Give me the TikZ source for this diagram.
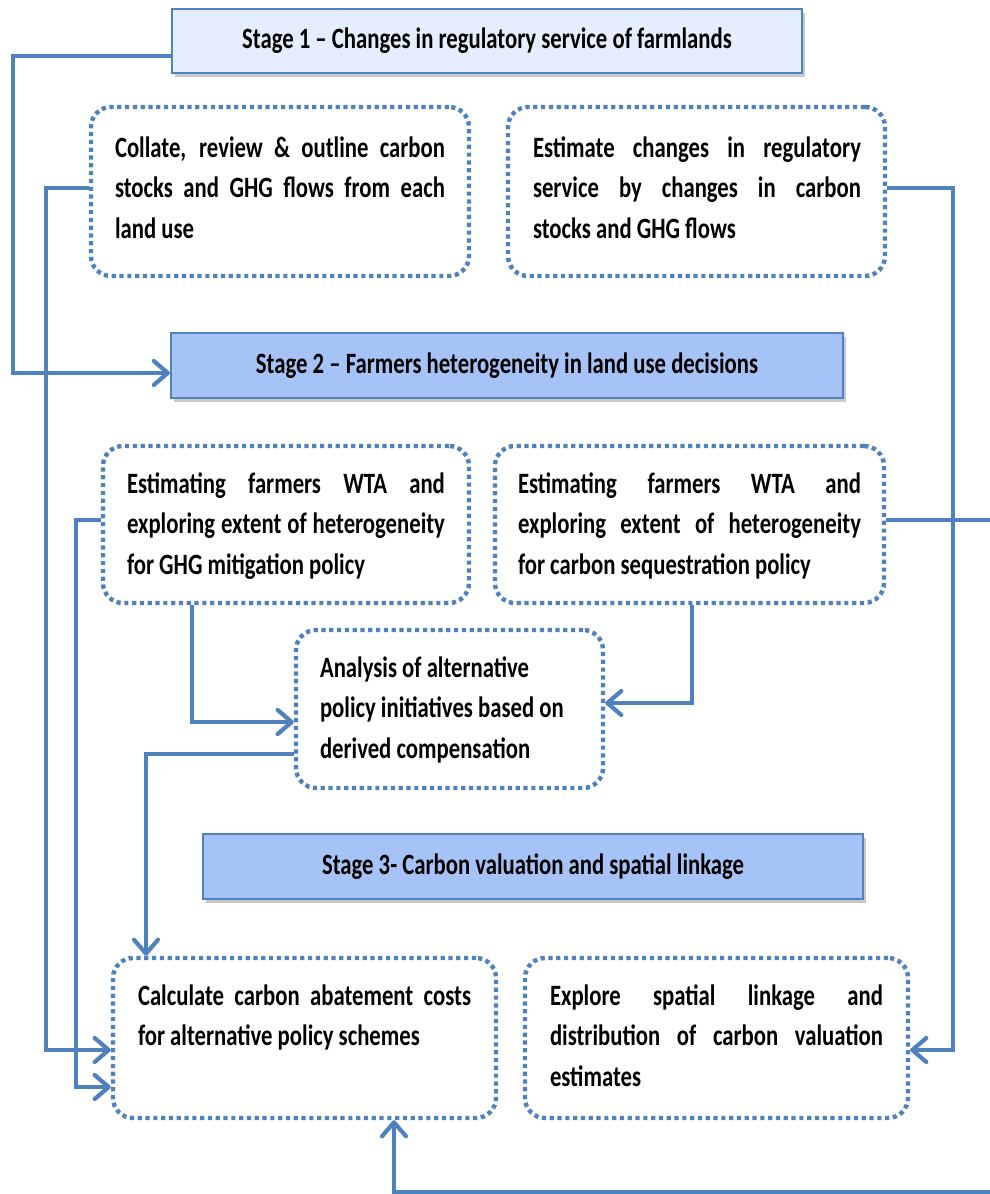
\documentclass[tikz,border=0pt]{standalone}
\usepackage{fontspec}
\setmainfont{Carlito}[FakeStretch=0.77]
\usetikzlibrary{arrows.meta,shadows}
\definecolor{bordblue}{HTML}{4F81BD}
\definecolor{lineblue}{HTML}{4F81BD}
\definecolor{dotblue}{HTML}{4F81BD}
\definecolor{stagelight}{HTML}{E5EEFC}
\definecolor{stagemid}{HTML}{A5C3F6}
\newcommand{\jline}[1]{\makebox[\linewidth][s]{#1}\\}
\newcommand{\boxpar}[2]{\parbox[t]{#1}{\fontsize{29.5pt}{40.8pt}\selectfont\bfseries #2}}
\begin{document}
\begin{tikzpicture}[x=1pt,y=-1pt,
  stagebox/.style={draw=bordblue, line width=2.2pt, inner sep=0pt,
    font=\fontsize{29.5pt}{34pt}\selectfont\bfseries,
    drop shadow={shadow xshift=3pt,shadow yshift=-4pt,opacity=0.3,fill=black!70}},
  dotbox/.style={draw=dotblue, line width=4.4pt, dash pattern=on 4.2pt off 3.6pt,
    rounded corners=20pt, inner sep=0pt},
  btext/.style={anchor=base west, inner sep=0pt, outer sep=0pt},
  conn/.style={draw=lineblue, line width=4.2pt,
    -{Straight Barb[length=14pt,width=24pt,round]}},
]
\useasboundingbox (0,0) rectangle (990,1194);
\fill[white] (0,0) rectangle (990,1194);
\clip (0,0) rectangle (990,1194);

% stage boxes
\node[stagebox, fill=stagelight, minimum width=630pt, minimum height=64pt] (s1) at (487,41)
  {Stage 1 – Changes in regulatory service of farmlands};
\node[stagebox, fill=stagemid, minimum width=672pt, minimum height=65pt] (s2) at (507,365.5)
  {Stage 2 – Farmers heterogeneity in land use decisions};
\node[stagebox, fill=stagemid, minimum width=660pt, minimum height=65pt] (s3) at (533,866.5)
  {Stage 3- Carbon valuation and spatial linkage};

% dotted boxes
\node[dotbox, minimum width=378pt, minimum height=169pt] (b1) at (280,191.5) {};
\node[dotbox, minimum width=377pt, minimum height=169pt] (b2) at (696.5,191.5) {};
\node[dotbox, minimum width=366pt, minimum height=157pt] (b3) at (286,524.5) {};
\node[dotbox, minimum width=389pt, minimum height=157pt] (b4) at (689.5,524.5) {};
\node[dotbox, minimum width=307pt, minimum height=158pt] (b5) at (449.5,709) {};
\node[dotbox, minimum width=383pt, minimum height=160pt] (b6) at (304.5,1038) {};
\node[dotbox, minimum width=383pt, minimum height=160pt] (b7) at (716.5,1038) {};

% texts
\node[btext] (t1) at (115,157) {\boxpar{330pt}{\jline{Collate, review \& outline carbon}\jline{stocks and GHG flows from each}land use}};
\node[btext] (t2) at (533,157) {\boxpar{328pt}{\jline{Estimate changes in regulatory}\jline{service by changes in carbon}stocks and GHG flows}};
\node[btext] (t3) at (127,493) {\boxpar{318pt}{\jline{Estimating farmers WTA and}\jline{exploring extent of heterogeneity}for GHG mitigation policy}};
\node[btext] (t4) at (518,493) {\boxpar{343pt}{\jline{Estimating farmers WTA and}\jline{exploring extent of heterogeneity}for carbon sequestration policy}};
\node[btext] (t5) at (320,677) {\boxpar{270pt}{\raggedright Analysis of alternative\\policy initiatives based on\\derived compensation}};
\node[btext] (t6) at (138,1005) {\boxpar{333pt}{\jline{Calculate carbon abatement costs}for alternative policy schemes}};
\node[btext] (t7) at (550,1005) {\boxpar{333pt}{\jline{Explore spatial linkage and}\jline{distribution of carbon valuation}estimates}};

% bend points
\coordinate (L1a) at (13,56);   \coordinate (L1b) at (13,373);
\coordinate (L2a) at (46,188);  \coordinate (L2b) at (46,1050);
\coordinate (R2a) at (953,188); \coordinate (R2b) at (953,1050);
\coordinate (L3a) at (76,520);  \coordinate (L3b) at (76,1087);
\coordinate (R4a) at (1000,520); \coordinate (R4b) at (1000,1192);
\coordinate (B4) at (394,1192);
\coordinate (D3) at (192,722);
\coordinate (D4) at (692,703);
\coordinate (D5) at (146,754);

% connectors
\draw[conn] (s1.west |- L1a) -- (L1a) -- (L1b) -- (s2.west |- L1b);
\draw[conn] (b1.west |- L2a) -- (L2a) -- (L2b) -- (b6.west |- L2b);
\draw[conn] (b2.east |- R2a) -- (R2a) -- (R2b) -- (b7.east |- R2b);
\draw[conn] (b3.west |- L3a) -- (L3a) -- (L3b) -- (b6.west |- L3b);
\draw[conn] (b4.east |- R4a) -- (R4a) -- (R4b) -- (B4) -- (B4 |- b6.south);
\draw[conn] (b3.south -| D3) -- (D3) -- (b5.west |- D3);
\draw[conn] (b4.south -| D4) -- (D4) -- (b5.east |- D4);
\draw[conn] (b5.west |- D5) -- (D5) -- (D5 |- b6.north);
\end{tikzpicture}
\end{document}
